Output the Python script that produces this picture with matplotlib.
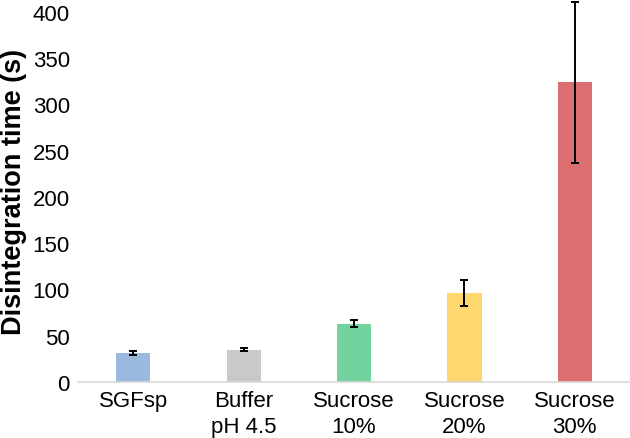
import matplotlib
matplotlib.use("Agg")
import matplotlib.pyplot as plt

categories = ["SGFsp", "Buffer\npH 4.5", "Sucrose\n10%", "Sucrose\n20%", "Sucrose\n30%"]
values = [31, 35, 63, 96, 324]
errors = [2, 2, 4, 14, 87]
colors = ["#9BB8DE", "#C9C9C9", "#72D39E", "#FED86F", "#DB6F71"]
yticks = [0, 50, 100, 150, 200, 250, 300, 350, 400]

plt.rcParams['font.family'] = ['Liberation Sans', 'DejaVu Sans']

fig = plt.figure(figsize=(6.3, 4.39), dpi=100)
ax = fig.add_axes([0.124, 0.1276, 0.876, 0.8724])
x = range(len(categories))
ax.bar(x, values, width=0.31, color=colors, zorder=2)
eb = ax.errorbar(x, values, yerr=errors, fmt='none', ecolor='black', elinewidth=1.4,
                 capsize=3, capthick=1.4, zorder=3)
for art in eb.lines[1] + eb.lines[2]:
    art.set_clip_on(False)
ax.set_xlim(-0.5, 4.5)
ax.set_ylim(0, 414)
ax.set_yticks(yticks)
ax.set_xticks(list(x))
ax.set_xticklabels(categories, fontsize=16, linespacing=1.3)
ax.tick_params(axis='y', labelsize=16, length=0, pad=6)
ax.tick_params(axis='x', length=0, pad=6)
for s in ['top', 'right', 'left']:
    ax.spines[s].set_visible(False)
ax.spines['bottom'].set_color('#D9D9D9')
ax.spines['bottom'].set_linewidth(1.2)
ax.set_ylabel("Disintegration time (s)", fontsize=19.5, fontweight='bold')
ax.yaxis.set_label_coords(-0.092, 0.499)
fig.savefig("out.png", dpi=100)
